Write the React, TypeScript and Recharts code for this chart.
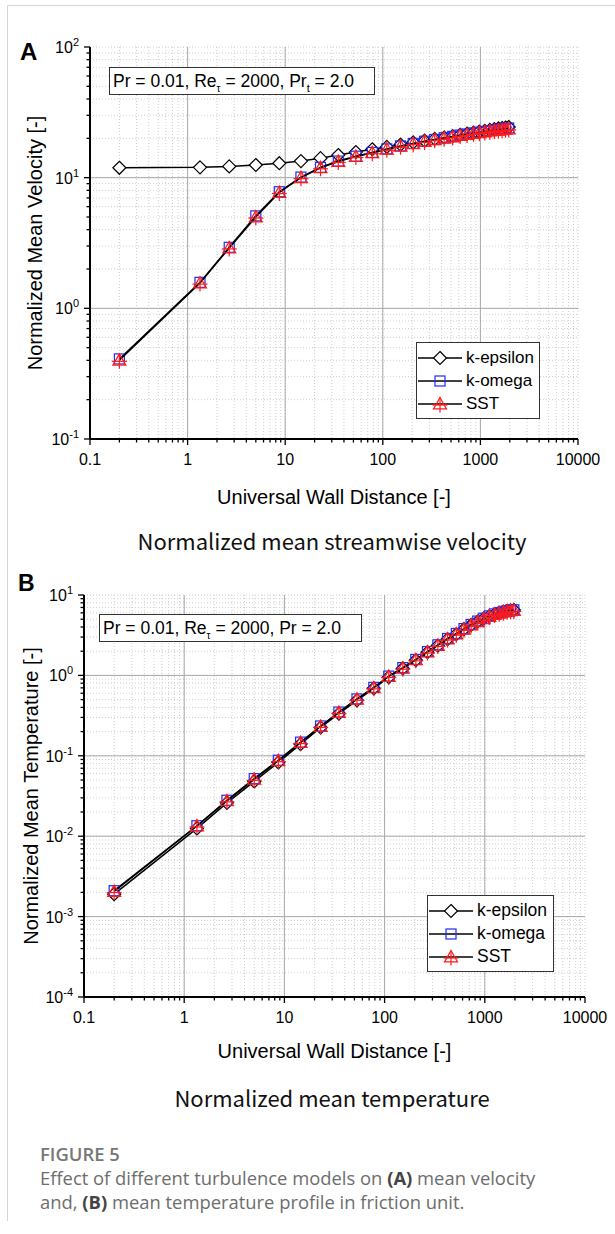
import React from 'react';
import { ScatterChart, Scatter, XAxis, YAxis, CartesianGrid, ReferenceLine, Legend, Label } from 'recharts';

// wall distance y+ of the mesh points (same for all models)
const yPlus = [0.2, 1.34, 2.67, 5.0, 8.7, 14.5, 23, 35, 53, 78, 110, 152, 205, 268, 340, 425, 520, 620, 730, 850, 975, 1110, 1250, 1390, 1530, 1670, 1810, 1950];

// (A) normalized mean velocity u+
const uKEpsilon = [11.9, 12.0, 12.2, 12.5, 12.9, 13.4, 14.1, 14.9, 15.7, 16.5, 17.2, 17.9, 18.6, 19.2, 19.8, 20.3, 20.8, 21.3, 21.7, 22.1, 22.5, 22.8, 23.2, 23.5, 23.8, 24.0, 24.2, 24.4];
const uKOmega = [0.41, 1.58, 2.93, 5.1, 7.8, 10.1, 12.0, 13.4, 14.6, 15.6, 16.6, 17.5, 18.3, 19.0, 19.6, 20.2, 20.7, 21.2, 21.6, 22.0, 22.3, 22.6, 22.9, 23.2, 23.4, 23.6, 23.8, 24.0];
const uSst = [0.40, 1.56, 2.90, 5.0, 7.7, 10.0, 11.9, 13.3, 14.5, 15.5, 16.5, 17.4, 18.2, 18.9, 19.5, 20.0, 20.5, 21.0, 21.4, 21.8, 22.1, 22.4, 22.7, 22.9, 23.1, 23.3, 23.5, 23.6];

// (B) normalized mean temperature T+
const tKEpsilon = [0.0019, 0.0125, 0.026, 0.048, 0.083, 0.140, 0.225, 0.335, 0.49, 0.69, 0.95, 1.22, 1.55, 1.94, 2.35, 2.82, 3.26, 3.76, 4.24, 4.68, 5.10, 5.45, 5.77, 6.0, 6.2, 6.35, 6.45, 6.5];
const tKOmega = [0.0021, 0.0135, 0.028, 0.052, 0.088, 0.148, 0.235, 0.35, 0.51, 0.71, 0.98, 1.25, 1.58, 1.98, 2.40, 2.88, 3.32, 3.82, 4.30, 4.74, 5.15, 5.50, 5.82, 6.05, 6.25, 6.40, 6.50, 6.55];
const tSst = [0.00205, 0.0134, 0.0275, 0.051, 0.087, 0.146, 0.232, 0.345, 0.505, 0.70, 0.97, 1.23, 1.56, 1.95, 2.36, 2.83, 3.26, 3.75, 4.22, 4.65, 5.05, 5.40, 5.70, 5.93, 6.12, 6.27, 6.37, 6.42];

const xDecades = [0.1, 1, 10, 100, 1000, 10000];
const velDecades = [0.1, 1, 10, 100];
const tempDecades = [0.0001, 0.001, 0.01, 0.1, 1, 10];
const seriesNames = ['k-epsilon', 'k-omega', 'SST'];

const ARIAL = '"Liberation Sans", Arial, sans-serif';
const GRID = '#a8a8a8';

// decade ticks plus 2..9 minor ticks in between
function withMinors(decades: number[]) {
  const out: number[] = [];
  decades.forEach((d, i) => {
    out.push(d);
    if (i < decades.length - 1) for (let k = 2; k <= 9; k++) out.push(+(d * k).toPrecision(4));
  });
  return out;
}
const isMajor = (v: number) => Math.abs(Math.log10(v) - Math.round(Math.log10(v))) < 1e-6;

const toPoints = (ys: number[]) => yPlus.map((x, i) => ({ x, y: ys[i] }));

// markers
const Diamond = ({ cx, cy, s = 6.5 }: any) => (
  <path d={`M${cx},${cy - s}L${cx + s},${cy}L${cx},${cy + s}L${cx - s},${cy}Z`} fill="#fff" stroke="#000" strokeWidth={1.2} />
);
const Square = ({ cx, cy, s = 5 }: any) => (
  <rect x={cx - s} y={cy - s} width={2 * s} height={2 * s} fill="none" stroke="#1f2bff" strokeWidth={1.2} />
);
const TriPlus = ({ cx, cy, s = 6.5 }: any) => (
  <g stroke="#ff1a1a" strokeWidth={1.2} fill="none">
    <path d={`M${cx},${cy - s}L${cx + s},${cy + s * 0.75}L${cx - s},${cy + s * 0.75}Z`} />
    <line x1={cx - s - 1} x2={cx + s + 1} y1={cy + 1} y2={cy + 1} />
    <line x1={cx} x2={cx} y1={cy - s} y2={cy + s + 2} />
  </g>
);
const markers = [Diamond, Square, TriPlus];

const XTick = ({ x, y, payload }: any) => {
  const v = payload.value;
  const major = isMajor(v);
  return (
    <g>
      <line x1={x} x2={x} y1={y} y2={y + (major ? 6 : 3.5)} stroke="#000" strokeWidth={1.3} />
      {major && (
        <text x={x} y={y + 26} textAnchor="middle" fontSize={16} fontFamily={ARIAL} fill="#000">
          {v < 1 ? String(v) : String(Math.round(v))}
        </text>
      )}
    </g>
  );
};

const YTick = ({ x, y, payload }: any) => {
  const v = payload.value;
  const major = isMajor(v);
  return (
    <g>
      <line x1={x - (major ? 6 : 3.5)} x2={x} y1={y} y2={y} stroke="#000" strokeWidth={1.3} />
      {major && (
        <text x={x - 11} y={y + 6} textAnchor="end" fontSize={16} fontFamily={ARIAL} fill="#000">
          10<tspan dy={-7} fontSize={11}>{String(Math.round(Math.log10(v)))}</tspan>
        </text>
      )}
    </g>
  );
};

const LegendBox = ({ size }: { size: number }) => (
  <div style={{ border: '1px solid #333', background: '#fff', padding: '3px 4px 3px 0', fontFamily: ARIAL, fontSize: size }}>
    {seriesNames.map((name, i) => {
      const M = markers[i];
      return (
        <div key={name} style={{ display: 'flex', alignItems: 'center', height: 23 }}>
          <svg width={48} height={20} style={{ flex: 'none' }}>
            <line x1={1} x2={45} y1={10} y2={10} stroke="#000" strokeWidth={1.5} />
            <M cx={23} cy={10} />
          </svg>
          <span style={{ marginLeft: 1, lineHeight: 1, whiteSpace: 'nowrap' }}>{name}</span>
        </div>
      );
    })}
  </div>
);

interface PanelProps {
  top: number;
  height: number;
  marginBottom: number;
  axisWidth: number;
  marginRight: number;
  yDecades: number[];
  series: number[][];
  yTitle: string;
  yTitleX: number;
  titleOffset: number;
  legendPos: { left: number; top: number; width: number };
  legendSize: number;
}

function Panel({ top, height, marginBottom, axisWidth, marginRight, yDecades, series, yTitle, yTitleX, titleOffset, legendPos, legendSize }: PanelProps) {
  const xTicks = withMinors(xDecades);
  const yTicks = withMinors(yDecades);
  return (
    <div style={{ position: 'absolute', left: 0, top }}>
      <ScatterChart width={615} height={height} margin={{ top: 47, right: marginRight, bottom: marginBottom, left: 0 }}>
        <CartesianGrid stroke="#cfcfcf" strokeDasharray="1 2" />
        {xDecades.slice(1, -1).map((v) => (
          <ReferenceLine key={'x' + v} x={v} stroke={GRID} strokeWidth={1} />
        ))}
        {yDecades.slice(1, -1).map((v) => (
          <ReferenceLine key={'y' + v} y={v} stroke={GRID} strokeWidth={1} />
        ))}
        <XAxis
          type="number" dataKey="x" scale="log" domain={[0.1, 10000]}
          ticks={xTicks} interval={0} height={30}
          tickSize={0} tickMargin={0} tickLine={false}
          axisLine={{ stroke: '#000', strokeWidth: 2 }}
          tick={<XTick />}
          allowDataOverflow
        >
          <Label
            content={({ viewBox }: any) => (
              <text x={viewBox.x + viewBox.width / 2} y={viewBox.y + titleOffset} textAnchor="middle" fontSize={20} fontFamily={ARIAL} fill="#000">
                Universal Wall Distance [-]
              </text>
            )}
          />
        </XAxis>
        <YAxis
          type="number" dataKey="y" scale="log" domain={[yDecades[0], yDecades[yDecades.length - 1]]}
          ticks={yTicks} interval={0} width={axisWidth}
          tickSize={0} tickMargin={0} tickLine={false}
          axisLine={{ stroke: '#000', strokeWidth: 2 }}
          tick={<YTick />}
          allowDataOverflow
        >
          <Label
            content={({ viewBox }: any) => {
              const cy = viewBox.y + viewBox.height / 2;
              return (
                <text x={yTitleX} y={cy} transform={`rotate(-90, ${yTitleX}, ${cy})`} textAnchor="middle" dominantBaseline="central" fontSize={20} fontFamily={ARIAL} fill="#000">
                  {yTitle}
                </text>
              );
            }}
          />
        </YAxis>
        {series.map((ys, i) => {
          const M = markers[i];
          return (
            <Scatter
              key={seriesNames[i]}
              name={seriesNames[i]}
              data={toPoints(ys)}
              line={{ stroke: '#000', strokeWidth: 1.5 }}
              lineType="joint"
              shape={(p: any) => <M cx={p.cx} cy={p.cy} />}
              isAnimationActive={false}
            />
          );
        })}
        <Legend
          layout="vertical" align="center" verticalAlign="middle"
          wrapperStyle={{ left: legendPos.left, top: legendPos.top, width: legendPos.width }}
          content={() => <LegendBox size={legendSize} />}
        />
      </ScatterChart>
    </div>
  );
}

const note = (last: React.ReactNode) => (
  <span>
    Pr = 0.01, Re<sub style={{ fontSize: 10 }}>τ</sub> = 2000, {last} = 2.0
  </span>
);

export default function App() {
  return (
    <div style={{ position: 'absolute', left: 0, top: 0, width: 615, height: 1234, background: '#fff', overflow: 'hidden' }}>
      <div style={{ position: 'absolute', left: 7, top: 5, width: 608, height: 1215, borderLeft: '1px solid #d4d4d4', borderTop: '1px solid #d4d4d4' }} />

      <Panel
        top={0} height={560} marginBottom={91} axisWidth={90} marginRight={37}
        yDecades={velDecades} series={[uKEpsilon, uKOmega, uSst]}
        yTitle="Normalized Mean Velocity [-]" yTitleX={35} titleOffset={65}
        legendPos={{ left: 416, top: 342, width: 124 }} legendSize={17}
      />
      <Panel
        top={548} height={560} marginBottom={81} axisWidth={84} marginRight={30}
        yDecades={tempDecades} series={[tKEpsilon, tKOmega, tSst]}
        yTitle="Normalized Mean Temperature [-]" yTitleX={31} titleOffset={61}
        legendPos={{ left: 427, top: 347, width: 127 }} legendSize={17.5}
      />

      <div style={{ position: 'absolute', left: 20, top: 38, fontFamily: ARIAL, fontWeight: 'bold', fontSize: 24 }}>A</div>
      <div style={{ position: 'absolute', left: 18, top: 570, fontFamily: ARIAL, fontWeight: 'bold', fontSize: 23 }}>B</div>

      <div style={{ position: 'absolute', left: 109, top: 67, width: 266, height: 28, border: '1px solid #333', background: '#fff', fontFamily: ARIAL, fontSize: 17.5, lineHeight: '26px', paddingLeft: 3, boxSizing: 'border-box', whiteSpace: 'nowrap' }}>
        {note(<>Pr<sub style={{ fontSize: 11 }}>t</sub></>)}
      </div>
      <div style={{ position: 'absolute', left: 99, top: 614, width: 263, height: 28, border: '1px solid #333', background: '#fff', fontFamily: ARIAL, fontSize: 17.5, lineHeight: '27px', paddingLeft: 3, boxSizing: 'border-box', whiteSpace: 'nowrap' }}>
        {note('Pr')}
      </div>

      <div style={{ position: 'absolute', left: 32, width: 600, top: 523, textAlign: 'center', fontFamily: '"Noto Sans CJK SC", sans-serif', fontSize: 22, lineHeight: '34px', color: '#111' }}>
        Normalized mean streamwise velocity
      </div>
      <div style={{ position: 'absolute', left: 32, width: 600, top: 1080, textAlign: 'center', fontFamily: '"Noto Sans CJK SC", sans-serif', fontSize: 22, lineHeight: '34px', color: '#111' }}>
        Normalized mean temperature
      </div>

      <div style={{ position: 'absolute', left: 40, top: 1142, fontFamily: '"Open Sans", sans-serif', color: '#6d6d6d', fontSize: 18.4, lineHeight: '24px' }}>
        <div style={{ fontWeight: 600, color: '#777' }}>FIGURE 5</div>
        <div>Effect of different turbulence models on <b style={{ color: '#444' }}>(A)</b> mean velocity</div>
        <div>and, <b style={{ color: '#444' }}>(B)</b> mean temperature profile in friction unit.</div>
      </div>
    </div>
  );
}
